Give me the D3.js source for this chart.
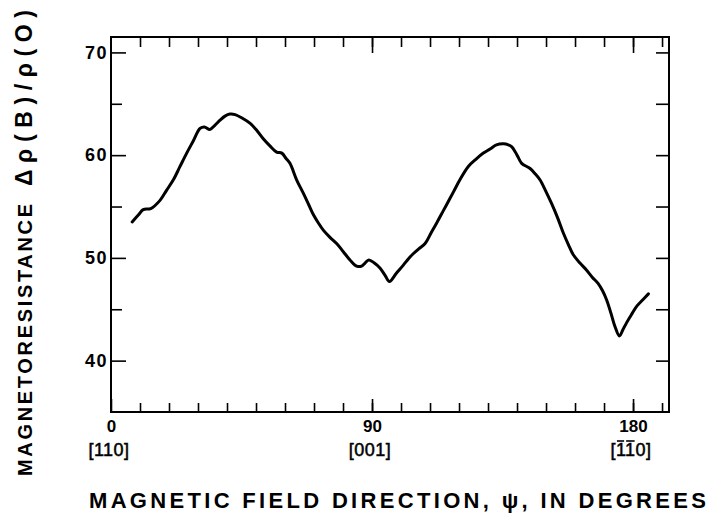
<!DOCTYPE html>
<html>
<head>
<meta charset="utf-8">
<script src="https://cdn.jsdelivr.net/npm/d3@7"></script>
<style>
  body { margin: 0; background: #fff; }
  svg { display: block; }
  text { font-family: "Liberation Sans", Arial, sans-serif; font-weight: bold; fill: #000; }
</style>
</head>
<body>
<svg id="vis-svg" width="708" height="516"></svg>
<script>
// field direction psi (degrees) and magnetoresistance
const psi = [7.3, 9.5, 11.1, 13.7, 16.9, 19.2, 21.5, 23.8, 26.1, 28.4, 30.7, 32.2, 34.1, 35.8, 37.6,
  39.3, 41.0, 42.8, 45.3, 48.0, 50.3, 52.5, 54.8, 57.1, 58.9, 60.3, 61.7, 64.0, 66.3, 68.3,
  69.8, 71.5, 73.2, 75.5, 77.8, 80.1, 82.4, 84.7, 86.4, 87.6, 88.9, 90.8, 92.8, 94.5, 96.0,
  98.4, 100.8, 102.5, 104.2, 106.2, 108.3, 110.3, 112.3, 114.6, 116.9, 118.6, 120.3, 123.2,
  125.8, 128.4, 130.7, 132.9, 135.3, 137.0, 138.2, 139.4, 140.4, 141.6, 144.5, 146.2, 147.9,
  149.9, 151.9, 154.0, 156.0, 157.7, 159.4, 161.7, 164.0, 166.0, 168.0, 169.5, 170.9, 172.4,
  173.8, 175.3, 176.5, 177.8, 179.5, 181.3, 183.3, 185.3];
const resistance = [53.5, 54.2, 54.7, 54.8, 55.6, 56.6, 57.6, 58.9, 60.2, 61.4, 62.6, 62.75, 62.5, 62.9, 63.4,
  63.8, 64.0, 63.95, 63.6, 63.1, 62.4, 61.6, 60.9, 60.3, 60.2, 59.7, 59.2, 57.6, 56.3, 55.1,
  54.2, 53.4, 52.7, 52.0, 51.4, 50.6, 49.8, 49.2, 49.2, 49.5, 49.8, 49.5, 49.0, 48.3, 47.7,
  48.5, 49.3, 49.9, 50.4, 50.9, 51.4, 52.4, 53.4, 54.6, 55.8, 56.7, 57.6, 58.9, 59.6, 60.2,
  60.6, 61.0, 61.1, 61.0, 60.8, 60.3, 59.8, 59.2, 58.7, 58.2, 57.6, 56.5, 55.3, 53.9, 52.4,
  51.3, 50.3, 49.5, 48.8, 48.1, 47.5, 46.8, 45.9, 44.6, 43.3, 42.4, 43.0, 43.7, 44.5, 45.3,
  45.9, 46.5];

const majorX = [0, 90, 180];
const majorXLabels = ['0', '90', '180'];
const directionLabels = ['[110]', '[001]', '[110]'];
const overbarChars = [[], [], [1, 2]];   // [1̄1̄0]
const minorX = d3.range(10, 191, 10);
const majorY = [40, 50, 60, 70];
const minorY = [45, 55, 65];

const svg = d3.select('#vis-svg');
const margin = { top: 37, right: 39, bottom: 104, left: 111 };
const width = 708 - margin.left - margin.right;
const height = 516 - margin.top - margin.bottom;

const x = d3.scaleLinear().domain([0, 192.4]).range([0, width]);
const y = d3.scaleLinear().domain([35, 71.5]).range([height, 0]);

const g = svg.append('g').attr('transform', `translate(${margin.left},${margin.top})`);

// all ticks point inward
function styleAxis(sel, size) {
  sel.select('.domain').remove();
  sel.selectAll('line').attr('stroke', '#000').attr('stroke-width', 1.6);
  sel.selectAll('text')
    .style('font-family', '"Liberation Sans", Arial, sans-serif')
    .style('font-weight', 'bold')
    .style('font-size', (size || 16) + 'px');
}

// bottom
g.append('g').attr('transform', `translate(0,${height})`)
  .call(d3.axisBottom(x).tickValues(minorX).tickSize(-9).tickFormat(''))
  .call(styleAxis);
g.append('g').attr('transform', `translate(0,${height})`)
  .call(d3.axisBottom(x).tickValues(majorX).tickSize(-13).tickPadding(8)
    .tickFormat((d, i) => majorXLabels[i]))
  .call(styleAxis, 17);
// top
g.append('g')
  .call(d3.axisTop(x).tickValues(minorX).tickSize(-10).tickFormat(''))
  .call(styleAxis);
g.append('g')
  .call(d3.axisTop(x).tickValues([90, 180]).tickSize(-16).tickFormat(''))
  .call(styleAxis);
// left
g.append('g')
  .call(d3.axisLeft(y).tickValues(minorY).tickSize(-11).tickFormat(''))
  .call(styleAxis);
const yAx = g.append('g')
  .call(d3.axisLeft(y).tickValues(majorY).tickSize(-15).tickPadding(3))
  .call(styleAxis, 18);
yAx.selectAll('text').style('letter-spacing', '1.5px');
// right
g.append('g').attr('transform', `translate(${width},0)`)
  .call(d3.axisRight(y).tickValues(minorY.concat(majorY)).tickSize(-13).tickFormat(''))
  .call(styleAxis);

// frame
g.append('rect')
  .attr('width', width).attr('height', height)
  .attr('fill', 'none').attr('stroke', '#000').attr('stroke-width', 2);

// crystal direction labels under the x ticks
const dirs = g.selectAll('.dir')
  .data(majorX)
  .enter().append('text')
  .attr('class', 'dir')
  .attr('x', d => x(d) - 2)
  .attr('y', height + 44)
  .attr('text-anchor', 'middle')
  .style('font-size', '18px')
  .style('font-weight', 'normal')
  .style('stroke', '#000').style('stroke-width', 0.5)
  .style('letter-spacing', '0.5px')
  .text((d, i) => directionLabels[i]);

// overbars for the negative indices
dirs.each(function (d, i) {
  overbarChars[i].forEach(c => {
    const box = this.getExtentOfChar(c);
    g.append('line')
      .attr('x1', box.x + 1).attr('x2', box.x + box.width - 1)
      .attr('y1', box.y + 1).attr('y2', box.y + 1)
      .attr('stroke', '#000').attr('stroke-width', 1.6);
  });
});

// the trace
const line = d3.line()
  .x((d, i) => x(psi[i]))
  .y((d, i) => y(resistance[i]))
  .curve(d3.curveCatmullRom);

g.append('path')
  .datum(resistance)
  .attr('d', line)
  .attr('fill', 'none')
  .attr('stroke', '#000')
  .attr('stroke-width', 3)
  .attr('stroke-linejoin', 'round')
  .attr('stroke-linecap', 'round');

// axis titles
svg.append('text')
  .attr('x', 89).attr('y', 508)
  .attr('textLength', 617).attr('lengthAdjust', 'spacing')
  .style('font-size', '22px')
  .text('MAGNETIC FIELD DIRECTION, \u03c8, IN DEGREES');

svg.append('text')
  .attr('transform', 'translate(32,476) rotate(-90)')
  .attr('textLength', 272).attr('lengthAdjust', 'spacing')
  .style('font-size', '20px')
  .text('MAGNETORESISTANCE');
svg.append('text')
  .attr('transform', 'translate(32,186) rotate(-90)')
  .attr('textLength', 176).attr('lengthAdjust', 'spacing')
  .style('font-size', '23px')
  .text('\u0394\u03c1(B)/\u03c1(O)');
</script>
</body>
</html>
